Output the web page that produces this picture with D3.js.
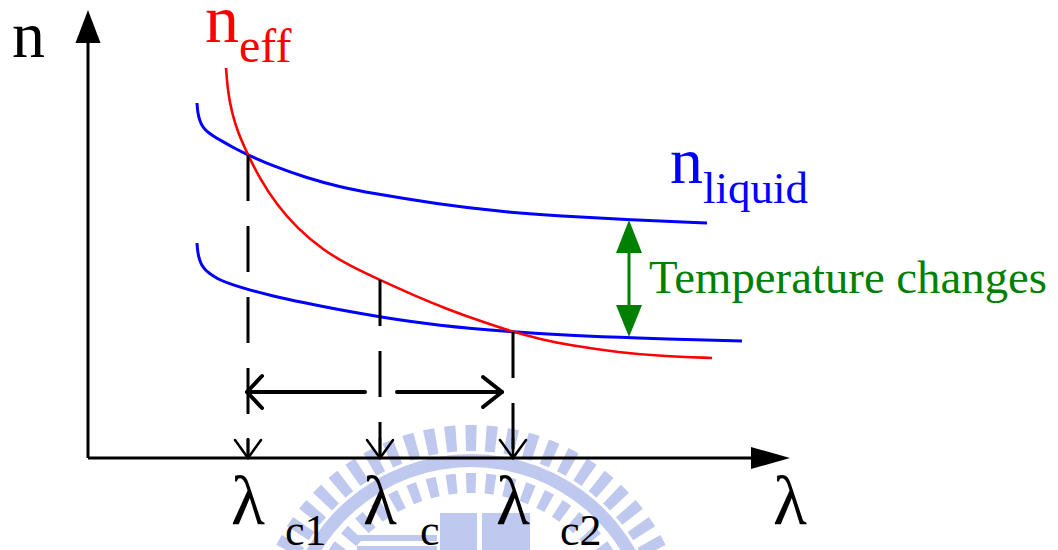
<!DOCTYPE html>
<html><head><meta charset="utf-8">
<script src="https://cdn.jsdelivr.net/npm/d3@7"></script>
<style>
body{margin:0;background:#fff}
svg{display:block}
</style>
</head><body>
<svg id="chart" width="1058" height="550" style="font-family:'Liberation Serif', serif"></svg>
<script>
// Curves in plot units: [λ, n], origin at the axes corner
const nEff = [[138,390],[140,365],[144,345],[150,325],[160,303],[172,279],[189,253],[209,230],
  [235,208],[262,192],[292,178],[325,163],[359,149],[392,137],[425,126],[452,119],[482,112.5],
  [532,105.5],[572,102],[624,100]];
const nLiquidHigh = [[109,355],[109.5,348],[110.5,342],[112,337],[114,332.5],[117,328.5],[121,325],
  [126,321.5],[132,318],[145,310.5],[160,303],[185,292],[219,280],[252,271],[282,265],[349,254],
  [415,246],[472,242],[542,238],[619,235]];
const nLiquidLow = [[109,215],[109.5,208],[110.5,202],[112,197],[114,192.5],[117,188.5],[121,185],
  [126,181.5],[132,178],[145,173],[160,168.5],[185,162],[212,156],[252,148],[292,141],[349,132.5],
  [425,126],[482,122.5],[542,120],[654,117]];

// Cut-off wavelengths and where each meets n_eff
const cutoffSubs = ["c1", "c", "c2"];
const cutoffLambda = [160, 292, 425];
const cutoffN = [303, 178, 126];

// Tuning range arrow (λ ends of the two halves) and its height
const tuningSpan = [159, 277, 309, 414];
const tuningN = 66;

// Temperature shift arrow: λ, upper n, lower n
const tempShift = [541, 238, 121];

const svg = d3.select("#chart");
const x = d3.scaleLinear().domain([0, 702]).range([88, 790]);
const y = d3.scaleLinear().domain([0, 448]).range([458, 10]);
const addText = (px, py, size, fill, str) => {
  const t = svg.append("text").attr("x", px).attr("y", py)
    .attr("font-size", size).attr("fill", fill)
    .style("font-family", '"Liberation Serif"');
  if (str !== null) t.text(str);
  return t;
};

// faint background emblem
const wm = svg.append("g").attr("fill", "#bfc8ee");
const cx = 471, cy = 643;
const arc = d3.arc();
wm.append("path").attr("transform", `translate(${cx},${cy})`)
  .attr("d", arc({innerRadius: 176, outerRadius: 189, startAngle: -Math.PI/2.2, endAngle: Math.PI/2.2}));
d3.range(-15, 16).forEach(i => {
  const a = i * 0.098;
  wm.append("path").attr("transform", `translate(${cx},${cy})`)
    .attr("d", arc({innerRadius: 192, outerRadius: 218, startAngle: a - 0.026, endAngle: a + 0.026}));
});
d3.range(-12, 13).forEach(i => {
  const a = i * 0.12;
  wm.append("path").attr("transform", `translate(${cx},${cy})`)
    .attr("d", arc({innerRadius: 150, outerRadius: 170, startAngle: a - 0.03, endAngle: a + 0.03}));
});
wm.append("rect").attr("x", 440).attr("y", 513).attr("width", 37).attr("height", 40);
wm.append("rect").attr("x", 482).attr("y", 513).attr("width", 48).attr("height", 40);
wm.append("rect").attr("x", 357).attr("y", 535).attr("width", 80).attr("height", 6);
wm.append("rect").attr("x", 357).attr("y", 546).attr("width", 80).attr("height", 5);

// axes with arrowheads
svg.append("line").attr("x1", x(0)).attr("y1", y(0)).attr("x2", x(0)).attr("y2", y(415))
  .attr("stroke", "#000").attr("stroke-width", 3);
svg.append("path").attr("d", `M${x(0)},${y(448)} L${x(0)-12.5},${y(415)} L${x(0)+12.5},${y(415)}Z`).attr("fill", "#000");
svg.append("line").attr("x1", x(0)).attr("y1", y(0)).attr("x2", x(663)).attr("y2", y(0))
  .attr("stroke", "#000").attr("stroke-width", 3);
svg.append("path").attr("d", `M${x(702)},${y(0)} L${x(663)},${y(0)-11} L${x(663)},${y(0)+11}Z`).attr("fill", "#000");

// dispersion curves
const line = d3.line().x(d => x(d[0])).y(d => y(d[1])).curve(d3.curveBasis);
svg.append("path").datum(nLiquidHigh).attr("d", line).attr("fill", "none").attr("stroke", "#0000ff").attr("stroke-width", 3);
svg.append("path").datum(nLiquidLow).attr("d", line).attr("fill", "none").attr("stroke", "#0000ff").attr("stroke-width", 3);
svg.append("path").datum(nEff).attr("d", line).attr("fill", "none").attr("stroke", "#ff0000").attr("stroke-width", 2.6);

// dashed drop lines to the λ axis with open arrowheads
cutoffLambda.forEach((l, i) => {
  svg.append("line").attr("x1", x(l)).attr("y1", y(cutoffN[i])).attr("x2", x(l)).attr("y2", y(0))
    .attr("stroke", "#000").attr("stroke-width", 3).attr("stroke-dasharray", "46,25");
  svg.append("path").attr("d", `M${x(l)-13},${y(0)-18} L${x(l)},${y(0)} L${x(l)+13},${y(0)-18}`)
    .attr("fill", "none").attr("stroke", "#000").attr("stroke-width", 2.5).attr("stroke-linecap", "round");
  svg.append("line").attr("x1", x(l)).attr("y1", y(0)-20).attr("x2", x(l)).attr("y2", y(0))
    .attr("stroke", "#000").attr("stroke-width", 2.5);
});

// tuning range double arrow
const ty = y(tuningN);
const bold = {stroke: "#000", "stroke-width": 4, "stroke-linecap": "round", "stroke-linejoin": "round", fill: "none"};
const addPath = (d, attrs) => { const p = svg.append("path").attr("d", d); Object.entries(attrs).forEach(([k, v]) => p.attr(k, v)); };
addPath(`M${x(tuningSpan[0])},${ty} L${x(tuningSpan[1])},${ty}`, bold);
addPath(`M${x(tuningSpan[0])+15},${ty-16} L${x(tuningSpan[0])},${ty} L${x(tuningSpan[0])+15},${ty+16}`, bold);
addPath(`M${x(tuningSpan[2])},${ty} L${x(tuningSpan[3])},${ty}`, bold);
addPath(`M${x(tuningSpan[3])-19},${ty-15} L${x(tuningSpan[3])},${ty} L${x(tuningSpan[3])-19},${ty+15}`, bold);

// temperature shift arrow
const gx = x(tempShift[0]), gy1 = y(tempShift[1]), gy2 = y(tempShift[2]);
svg.append("line").attr("x1", gx).attr("y1", gy1 + 20).attr("x2", gx).attr("y2", gy2 - 20)
  .attr("stroke", "#008000").attr("stroke-width", 3);
svg.append("path").attr("d", `M${gx},${gy1} L${gx-13},${gy1+33} L${gx+13},${gy1+33}Z`).attr("fill", "#008000");
svg.append("path").attr("d", `M${gx},${gy2} L${gx-13},${gy2-32} L${gx+13},${gy2-32}Z`).attr("fill", "#008000");
addText(649, 293, 47, "#008000", "Temperature changes")
  .attr("textLength", 398).attr("lengthAdjust", "spacingAndGlyphs");

// axis titles
addText(12, 57, 66, "#000", "n");
addText(773, 524, 70, "#000", "λ");

// curve labels
const effLabel = addText(205, 42, 68, "#ff0000", null);
effLabel.append("tspan").text("n");
effLabel.append("tspan").attr("font-size", 48).attr("dy", 20).text("eff");
const liqLabel = addText(670, 183, 66, "#0000ff", null);
liqLabel.append("tspan").text("n");
liqLabel.append("tspan").attr("font-size", 45).attr("dy", 20).text("liquid");

// cut-off wavelength labels
const subOffset = [37, 40, 47];
cutoffLambda.forEach((l, i) => {
  addText(x(l) - 17, 524, 70, "#000", "λ");
  addText(x(l) + subOffset[i], 545, 44, "#000", cutoffSubs[i]);
});
</script>
</body></html>
